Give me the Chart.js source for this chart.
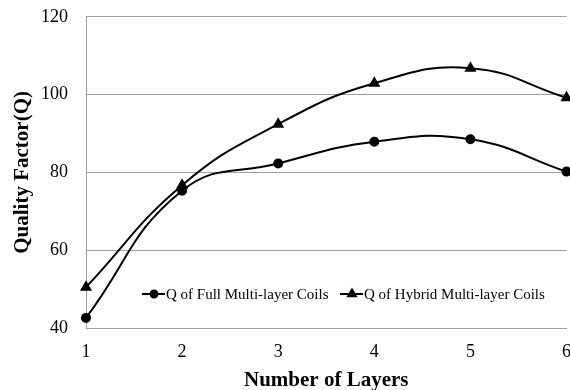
<!DOCTYPE html>
<html>
<head>
    <meta charset="UTF-8">
    <title>Quality Factor vs Number of Layers</title>
    <style>
        html, body { margin: 0; padding: 0; background: #fff; overflow: hidden; }
        /* canvas a bit larger than the window so Chart.js' built-in label padding falls outside */
        #wrap { width: 584px; height: 403px; margin-top: -12px; }
    </style>
</head>
<body>
    <div id="wrap"><canvas id="myChart"></canvas></div>

    <script src="https://cdn.jsdelivr.net/npm/chart.js@4.4.1/dist/chart.umd.min.js"></script>
    <script>
        var layers = ['1', '2', '3', '4', '5', '6'];
        var qFull = [42.6, 75.3, 82.3, 87.9, 88.5, 80.2];
        var qHybrid = [50.5, 76.7, 92.4, 102.9, 106.8, 99.2];
        var yTicks = [40, 60, 80, 100, 120];

        var serif = '"Liberation Serif", "Times New Roman", serif';

        // legend sits inside the plot area, line + marker like the original
        var innerLegend = {
            id: 'innerLegend',
            afterDraw: function(chart) {
                var ctx = chart.ctx;
                var y = 306;
                var starts = [142, 340];
                ctx.save();
                ctx.font = '15px ' + serif;
                ctx.fillStyle = '#000';
                ctx.textBaseline = 'middle';
                chart.data.datasets.forEach(function(ds, i) {
                    var sx = starts[i];
                    ctx.strokeStyle = '#000';
                    ctx.lineWidth = 2;
                    ctx.beginPath();
                    ctx.moveTo(sx, y);
                    ctx.lineTo(sx + 23, y);
                    ctx.stroke();
                    Chart.helpers.drawPoint(ctx, {
                        pointStyle: ds.pointStyle,
                        radius: ds.pointRadius - 0.5,
                        borderWidth: 1
                    }, sx + 12, y);
                    ctx.fillText(ds.label, sx + 24, y + 1);
                });
                ctx.restore();
            }
        };

        new Chart('myChart', {
            type: 'line',
            data: {
                labels: layers,
                datasets: [{
                    label: 'Q of Full Multi-layer Coils',
                    data: qFull,
                    borderColor: '#000',
                    backgroundColor: '#000',
                    borderWidth: 2,
                    pointStyle: 'circle',
                    pointRadius: 4,
                    tension: 0.45
                }, {
                    label: 'Q of Hybrid Multi-layer Coils',
                    data: qHybrid,
                    borderColor: '#000',
                    backgroundColor: '#000',
                    borderWidth: 2,
                    pointStyle: 'triangle',
                    pointRadius: 5,
                    tension: 0.45
                }]
            },
            options: {
                responsive: true,
                maintainAspectRatio: false,
                animation: false,
                layout: { padding: { top: 0, right: 0, left: 10, bottom: 0 } },
                plugins: {
                    legend: { display: false },
                    tooltip: { enabled: false }
                },
                scales: {
                    x: {
                        offset: false,
                        afterFit: function(axis) {
                            axis.height = 63;
                        },
                        grid: { display: false, drawTicks: false },
                        border: { color: '#a0a0a0', width: 1 },
                        ticks: { color: '#000', font: { family: serif, size: 18 }, padding: 13, maxRotation: 0 },
                        title: {
                            display: true,
                            text: 'Number of Layers',
                            color: '#000',
                            font: { family: serif, size: 21, weight: 'bold', lineHeight: 1 },
                            padding: { top: 0, bottom: 0 }
                        }
                    },
                    y: {
                        min: 40,
                        max: 120,
                        afterBuildTicks: function(axis) {
                            axis.ticks = yTicks.map(function(v) { return { value: v }; });
                        },
                        afterFit: function(axis) {
                            axis.width = 76;
                        },
                        grid: { color: '#a0a0a0', drawTicks: false },
                        border: { color: '#a0a0a0', width: 1 },
                        ticks: { color: '#000', font: { family: serif, size: 18 }, padding: 18 },
                        title: {
                            display: true,
                            text: 'Quality Factor(Q)',
                            color: '#000',
                            font: { family: serif, size: 21, weight: 'bold' },
                            padding: { top: 0, bottom: 8 }
                        }
                    }
                }
            },
            plugins: [innerLegend]
        });
    </script>
</body>
</html>
